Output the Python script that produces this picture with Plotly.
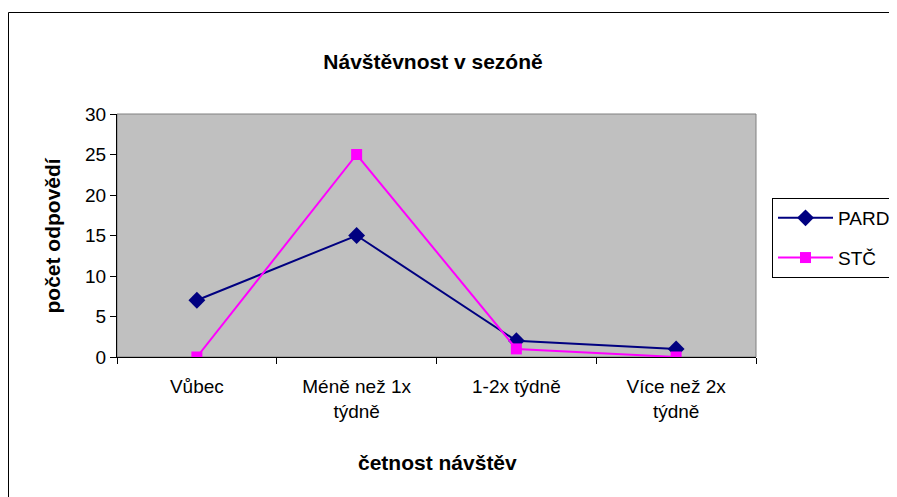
import plotly.graph_objects as go

# data
kategorie = ["Vůbec", "Méně než 1x<br>týdně", "1-2x týdně", "Více než 2x<br>týdně"]
pard = [7, 15, 2, 1]
stc = [0, 25, 1, 0]

# the page body has an 8px margin, so the figure starts at (8, 8)
OFF = 8
W, H = 897 - OFF, 497 - OFF
L, R, T, B = 117, 756, 114, 357  # plot area in page pixels


def px_x(x):
    return (x - L) / (R - L)


def px_y(y):
    return (B - y) / (B - T)


FONT = "Liberation Sans, Arial, sans-serif"

fig = go.Figure()

fig.add_trace(go.Scatter(
    x=kategorie, y=pard, name="PARD", mode="lines+markers",
    line=dict(color="#000080", width=2),
    marker=dict(symbol="diamond", size=13, color="#000080"),
    legendgroup="a",
))
fig.add_trace(go.Scatter(
    x=kategorie, y=stc, name="STČ", mode="lines+markers",
    line=dict(color="#FF00FF", width=2),
    marker=dict(symbol="square", size=11, color="#FF00FF"),
    legendgroup="b",
))

fig.update_layout(
    width=W, height=H,
    margin=dict(l=L - OFF, r=W - (R - OFF), t=T - OFF, b=H - (B - OFF),
                autoexpand=False),
    paper_bgcolor="white",
    plot_bgcolor="#C0C0C0",
    font=dict(family=FONT, size=19, color="black"),
    title=dict(text="<b>Návštěvnost v sezóně</b>", x=px_x(433), xref="paper",
               xanchor="center", y=1 - (62 - OFF) / H, yanchor="middle",
               font=dict(size=21)),
    showlegend=True,
    legend=dict(x=px_x(772), y=px_y(198), xanchor="left", yanchor="top",
                bgcolor="white", bordercolor="black", borderwidth=1,
                tracegroupgap=12, font=dict(size=19), entrywidth=110,
                itemwidth=55),
    shapes=[
        dict(type="rect", xref="paper", yref="paper", x0=0, x1=1, y0=0, y1=1,
             line=dict(color="#808080", width=1), layer="below"),
        dict(type="line", xref="paper", yref="paper",
             x0=px_x(8.5), x1=px_x(8.5), y0=px_y(12.5), y1=px_y(520),
             line=dict(color="black", width=1)),
        dict(type="line", xref="paper", yref="paper",
             x0=px_x(8.5), x1=px_x(920), y0=px_y(12.5), y1=px_y(12.5),
             line=dict(color="black", width=1)),
    ],
    annotations=[
        dict(text="<b>počet odpovědí</b>", xref="paper", yref="paper",
             x=px_x(52), y=0.5, textangle=-90, showarrow=False,
             font=dict(size=21), xanchor="center", yanchor="middle"),
        dict(text="<b>četnost návštěv</b>", xref="paper", yref="paper",
             x=px_x(437), y=px_y(462), showarrow=False,
             font=dict(size=21), xanchor="center", yanchor="middle"),
    ],
)

fig.update_xaxes(
    type="category", range=[-0.5, 3.5], tickson="boundaries",
    ticks="outside", ticklen=6, tickcolor="black", ticklabelstandoff=12,
    showline=True, linecolor="black", linewidth=1,
    showgrid=False, zeroline=False, fixedrange=True,
)
fig.update_yaxes(
    range=[0, 30], dtick=5, ticks="outside", ticklen=6, tickcolor="black",
    showline=True, linecolor="black", linewidth=1,
    showgrid=False, zeroline=False, fixedrange=True,
)

fig.write_html("out.html", config=dict(displayModeBar=False))
